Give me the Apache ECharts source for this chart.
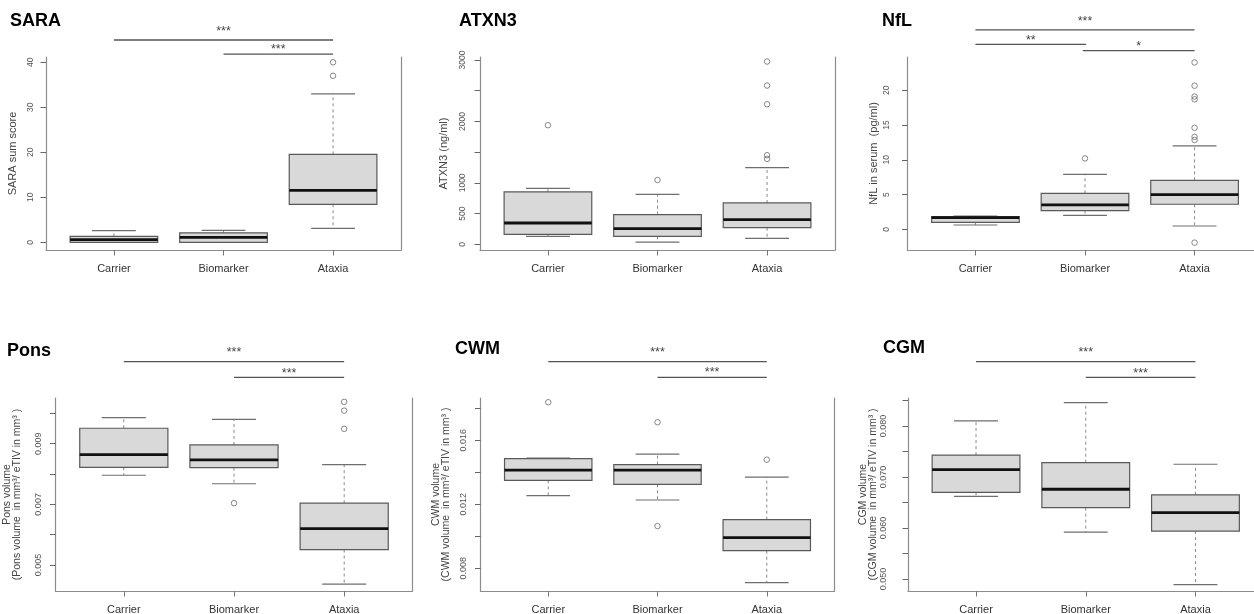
<!DOCTYPE html>
<html><head><meta charset="utf-8">
<script src="https://cdn.jsdelivr.net/npm/echarts@6/dist/echarts.min.js"></script>
<style>html,body{margin:0;padding:0;background:#fff}#c{width:1254px;height:614px}</style>
</head><body><div id="c"></div>
<script>
// ---------- data ----------
const CATEGORIES = ['Carrier', 'Biomarker', 'Ataxia'];
const X_RANGE = [0.38, 3.62];

// box stats per category: [lower whisker, Q1, median, Q3, upper whisker]
const SARA_BOX = [[0, 0, 0.6, 1.3, 2.6], [0, 0, 1.1, 2.1, 2.65], [3.1, 8.45, 11.55, 19.55, 33]];
const SARA_OUT = [[3, 40], [3, 37]];
const SARA_TICKS = [0, 10, 20, 30, 40];
const SARA_LABELS = [0, 10, 20, 30, 40];
const SARA_RANGE = [-1.71, 41.18];
// significance: [from, to, line value, label value]
const SARA_SIG = [[1, 3, 44.96, 47.6], [2, 3, 41.8, 43.4]];
const SARA_STARS = ['***', '***'];

const ATXN3_BOX = [[130, 163, 347, 852, 912], [37, 130, 254, 482, 814], [98, 270, 401, 673, 1248]];
const ATXN3_OUT = [[1, 1938], [2, 1047], [3, 2975], [3, 2584], [3, 2280], [3, 1450], [3, 1390]];
const ATXN3_TICKS = [0, 500, 1000, 1500, 2000, 2500, 3000];
const ATXN3_LABELS = [0, 500, 1000, 2000, 3000];
const ATXN3_RANGE = [-92.8, 3049];
const ATXN3_SIG = [];
const ATXN3_STARS = [];

const NFL_BOX = [[0.62, 1.0, 1.67, 1.81, 1.9], [2.0, 2.68, 3.5, 5.18, 7.9], [0.47, 3.6, 5.0, 7.05, 12.0]];
const NFL_OUT = [[2, 10.2], [3, 24.0], [3, 20.66], [3, 19.1], [3, 18.7], [3, 14.6], [3, 13.3], [3, 12.85], [3, -1.92]];
const NFL_TICKS = [0, 5, 10, 15, 20];
const NFL_LABELS = [0, 5, 10, 15, 20];
const NFL_RANGE = [-2.98, 24.79];
const NFL_SIG = [[1, 3, 28.68, 30.26], [1, 2.01, 26.62, 27.6], [1.98, 3, 25.7, 26.66]];
const NFL_STARS = ['***', '**', '*'];

const PONS_BOX = [[0.00796, 0.00822, 0.00864, 0.00951, 0.00986], [0.00768, 0.00821, 0.00847, 0.00896, 0.0098], [0.00437, 0.00551, 0.0062, 0.00704, 0.00831]];
const PONS_OUT = [[2, 0.00704], [3, 0.01038], [3, 0.01009], [3, 0.00949]];
const PONS_TICKS = [0.005, 0.006, 0.007, 0.008, 0.009, 0.010];
const PONS_LABELS = [0.005, 0.007, 0.009];
const PONS_RANGE = [0.004144, 0.010507];
const PONS_SIG = [[1, 3, 0.011703, 0.012106], [2, 3, 0.011189, 0.011413]];
const PONS_STARS = ['***', '***'];

const CWM_BOX = [[0.01254, 0.0135, 0.01414, 0.01485, 0.01489], [0.01227, 0.01325, 0.01414, 0.01448, 0.01513], [0.0071, 0.0091, 0.00992, 0.01104, 0.0137]];
const CWM_OUT = [[1, 0.01838], [2, 0.01713], [2, 0.01064], [3, 0.01479]];
const CWM_TICKS = [0.008, 0.010, 0.012, 0.014, 0.016, 0.018];
const CWM_LABELS = [0.008, 0.012, 0.016];
const CWM_RANGE = [0.006581, 0.018644];
const CWM_SIG = [[1, 3, 0.020913, 0.021663], [2, 3, 0.019938, 0.020394]];
const CWM_STARS = ['***', '***'];

const CGM_BOX = [[0.0662, 0.067, 0.07143, 0.0743, 0.081], [0.0592, 0.064, 0.0676, 0.0728, 0.0846], [0.0489, 0.0594, 0.063, 0.0665, 0.0725]];
const CGM_OUT = [];
const CGM_TICKS = [0.050, 0.055, 0.060, 0.065, 0.070, 0.075, 0.080, 0.085];
const CGM_LABELS = [0.050, 0.060, 0.070, 0.080];
const CGM_RANGE = [0.047647, 0.08549];
const CGM_SIG = [[1, 3, 0.092608, 0.094961], [2, 3, 0.089549, 0.090882]];
const CGM_STARS = ['***', '***'];

// ---------- layout / style ----------
const FONT = '"Liberation Sans", Arial, Helvetica, sans-serif';
const panels = [
  {title: 'SARA', yName: 'SARA sum score', box: SARA_BOX, out: SARA_OUT, sig: SARA_SIG, stars: SARA_STARS,
   ticks: SARA_TICKS, labels: SARA_LABELS, range: SARA_RANGE, dec: 0,
   grid: {left: 46, top: 57, width: 355, height: 193}, tpos: [10, 12], tickFont: 8.5, labelMargin: 11, nameGap: 27.5, nameFont: 11},
  {title: 'ATXN3', yName: 'ATXN3 (ng/ml)', box: ATXN3_BOX, out: ATXN3_OUT, sig: ATXN3_SIG, stars: ATXN3_STARS,
   ticks: ATXN3_TICKS, labels: ATXN3_LABELS, range: ATXN3_RANGE, dec: 0,
   grid: {left: 480, top: 57, width: 355, height: 193}, tpos: [459, 12], tickFont: 8.5, labelMargin: 12.5, nameGap: 30.5, nameFont: 11},
  {title: 'NfL', yName: 'NfL in serum  (pg/ml)', box: NFL_BOX, out: NFL_OUT, sig: NFL_SIG, stars: NFL_STARS,
   ticks: NFL_TICKS, labels: NFL_LABELS, range: NFL_RANGE, dec: 0,
   grid: {left: 907.5, top: 57, width: 355, height: 193}, tpos: [882, 12], tickFont: 8.5, labelMargin: 16.5, nameGap: 28, nameFont: 11},
  {title: 'Pons', yName: 'Pons volume\n(Pons volume  in mm³/ eTIV in mm³ )', box: PONS_BOX, out: PONS_OUT, sig: PONS_SIG, stars: PONS_STARS,
   ticks: PONS_TICKS, labels: PONS_LABELS, range: PONS_RANGE, dec: 3,
   grid: {left: 55.5, top: 398, width: 357, height: 193}, tpos: [7, 342], tickFont: 9, labelMargin: 12, nameGap: 33, nameFont: 10.5},
  {title: 'CWM', yName: 'CWM volume\n(CWM volume  in mm³/ eTIV in mm³ )', box: CWM_BOX, out: CWM_OUT, sig: CWM_SIG, stars: CWM_STARS,
   ticks: CWM_TICKS, labels: CWM_LABELS, range: CWM_RANGE, dec: 3,
   grid: {left: 480.5, top: 398, width: 354, height: 193}, tpos: [455, 340], tickFont: 9, labelMargin: 12.5, nameGap: 29.5, nameFont: 10.5},
  {title: 'CGM', yName: 'CGM volume\n(CGM volume  in mm³/ eTIV in mm³ )', box: CGM_BOX, out: CGM_OUT, sig: CGM_SIG, stars: CGM_STARS,
   ticks: CGM_TICKS, labels: CGM_LABELS, range: CGM_RANGE, dec: 3,
   grid: {left: 908, top: 398, width: 355.5, height: 193}, tpos: [883, 339], tickFont: 9, labelMargin: 19.5, nameGap: 29.5, nameFont: 10.5}
];

const AXIS_COLOR = '#8c8c8c';
const option = {animation: false, backgroundColor: '#fff', title: [], grid: [], xAxis: [], yAxis: [], series: []};

panels.forEach((p, i) => {
  option.title.push({text: p.title, left: p.tpos[0], top: p.tpos[1], padding: 0,
    textStyle: {fontFamily: FONT, fontSize: 18, fontWeight: 'bold', color: '#000'}});
  option.grid.push(Object.assign({containLabel: false, outerBoundsMode: 'none'}, p.grid));
  option.xAxis.push({
    type: 'value', gridIndex: i, min: X_RANGE[0], max: X_RANGE[1],
    axisLine: {show: true, onZero: false, lineStyle: {color: AXIS_COLOR, width: 1.2}},
    axisTick: {show: true, customValues: [1, 2, 3], length: 5.5, lineStyle: {color: '#777', width: 1}},
    axisLabel: {show: true, customValues: [1, 2, 3], formatter: v => CATEGORIES[Math.round(v) - 1],
      fontFamily: FONT, fontSize: 11, color: '#333', margin: 13},
    splitLine: {show: false}
  });
  option.yAxis.push({
    type: 'value', gridIndex: i, min: p.range[0], max: p.range[1],
    name: p.yName, nameLocation: 'middle', nameGap: p.nameGap, nameRotate: 90,
    nameTextStyle: {fontFamily: FONT, fontSize: p.nameFont, color: '#444', lineHeight: p.nameFont < 11 ? 10 : 12, align: 'center'},
    axisLine: {show: true, onZero: false, lineStyle: {color: AXIS_COLOR, width: 1.2}},
    axisTick: {show: true, customValues: p.ticks, length: 5.5, lineStyle: {color: '#666', width: 1}},
    axisLabel: {show: true, customValues: p.labels, rotate: 90, formatter: v => v.toFixed(p.dec),
      fontFamily: FONT, fontSize: p.tickFont, color: '#555', margin: p.labelMargin},
    splitLine: {show: false}
  });
  option.yAxis.push({
    type: 'value', gridIndex: i, position: 'right', min: p.range[0], max: p.range[1],
    axisLine: {show: true, onZero: false, lineStyle: {color: AXIS_COLOR, width: 1.2}},
    axisTick: {show: false}, axisLabel: {show: false}, splitLine: {show: false}
  });
  const yIdx = 2 * i;
  // boxes
  option.series.push({
    type: 'custom', xAxisIndex: i, yAxisIndex: yIdx, silent: true,
    data: p.box.map((b, k) => [k + 1].concat(b)),
    encode: {x: 0, y: [1, 2, 3, 4, 5]},
    renderItem: (params, api) => {
      const x = api.value(0), lo = api.value(1), q1 = api.value(2), med = api.value(3), q3 = api.value(4), hi = api.value(5);
      const c = (a, b) => api.coord([a, b]);
      const tl = c(x - 0.4, q3), br = c(x + 0.4, q1);
      const line = (a, b, style) => ({type: 'line', shape: {x1: a[0], y1: a[1], x2: b[0], y2: b[1]}, style: style});
      const dash = {stroke: '#8a8a8a', lineWidth: 1, lineDash: [3, 3]};
      const cap = {stroke: '#6e6e6e', lineWidth: 1.2};
      return {type: 'group', children: [
        line(c(x, q3), c(x, hi), dash),
        line(c(x, q1), c(x, lo), dash),
        line(c(x - 0.2, hi), c(x + 0.2, hi), cap),
        line(c(x - 0.2, lo), c(x + 0.2, lo), cap),
        {type: 'rect', shape: {x: tl[0], y: tl[1], width: br[0] - tl[0], height: br[1] - tl[1]},
          style: {fill: '#d9d9d9', stroke: '#5a5a5a', lineWidth: 1.2}},
        line(c(x - 0.4, med), c(x + 0.4, med), {stroke: '#111', lineWidth: 2.8})
      ]};
    }
  });
  // outliers
  option.series.push({
    type: 'scatter', xAxisIndex: i, yAxisIndex: yIdx, silent: true, data: p.out,
    symbol: 'circle', symbolSize: 5.5,
    itemStyle: {color: 'rgba(0,0,0,0)', borderColor: '#6a6a6a', borderWidth: 1}
  });
  // significance bars
  if (p.sig.length) {
    option.series.push({
      type: 'custom', xAxisIndex: i, yAxisIndex: yIdx, silent: true, clip: false,
      data: p.sig, encode: {x: [0, 1], y: [2, 3]},
      renderItem: (params, api) => {
        const x1 = api.value(0), x2 = api.value(1), y = api.value(2), ly = api.value(3);
        const a = api.coord([x1, y]), b = api.coord([x2, y]);
        const t = api.coord([(x1 + x2) / 2, ly]);
        return {type: 'group', children: [
          {type: 'line', shape: {x1: a[0], y1: a[1], x2: b[0], y2: b[1]}, style: {stroke: '#555', lineWidth: 1.3}},
          {type: 'text', style: {text: p.stars[params.dataIndex], x: t[0], y: t[1] + 3, align: 'center', verticalAlign: 'middle',
            fontFamily: FONT, fontSize: 12.5, fill: '#444'}}
        ]};
      }
    });
  }
});

const chart = echarts.init(document.getElementById('c'));
chart.setOption(option);
</script></body></html>
